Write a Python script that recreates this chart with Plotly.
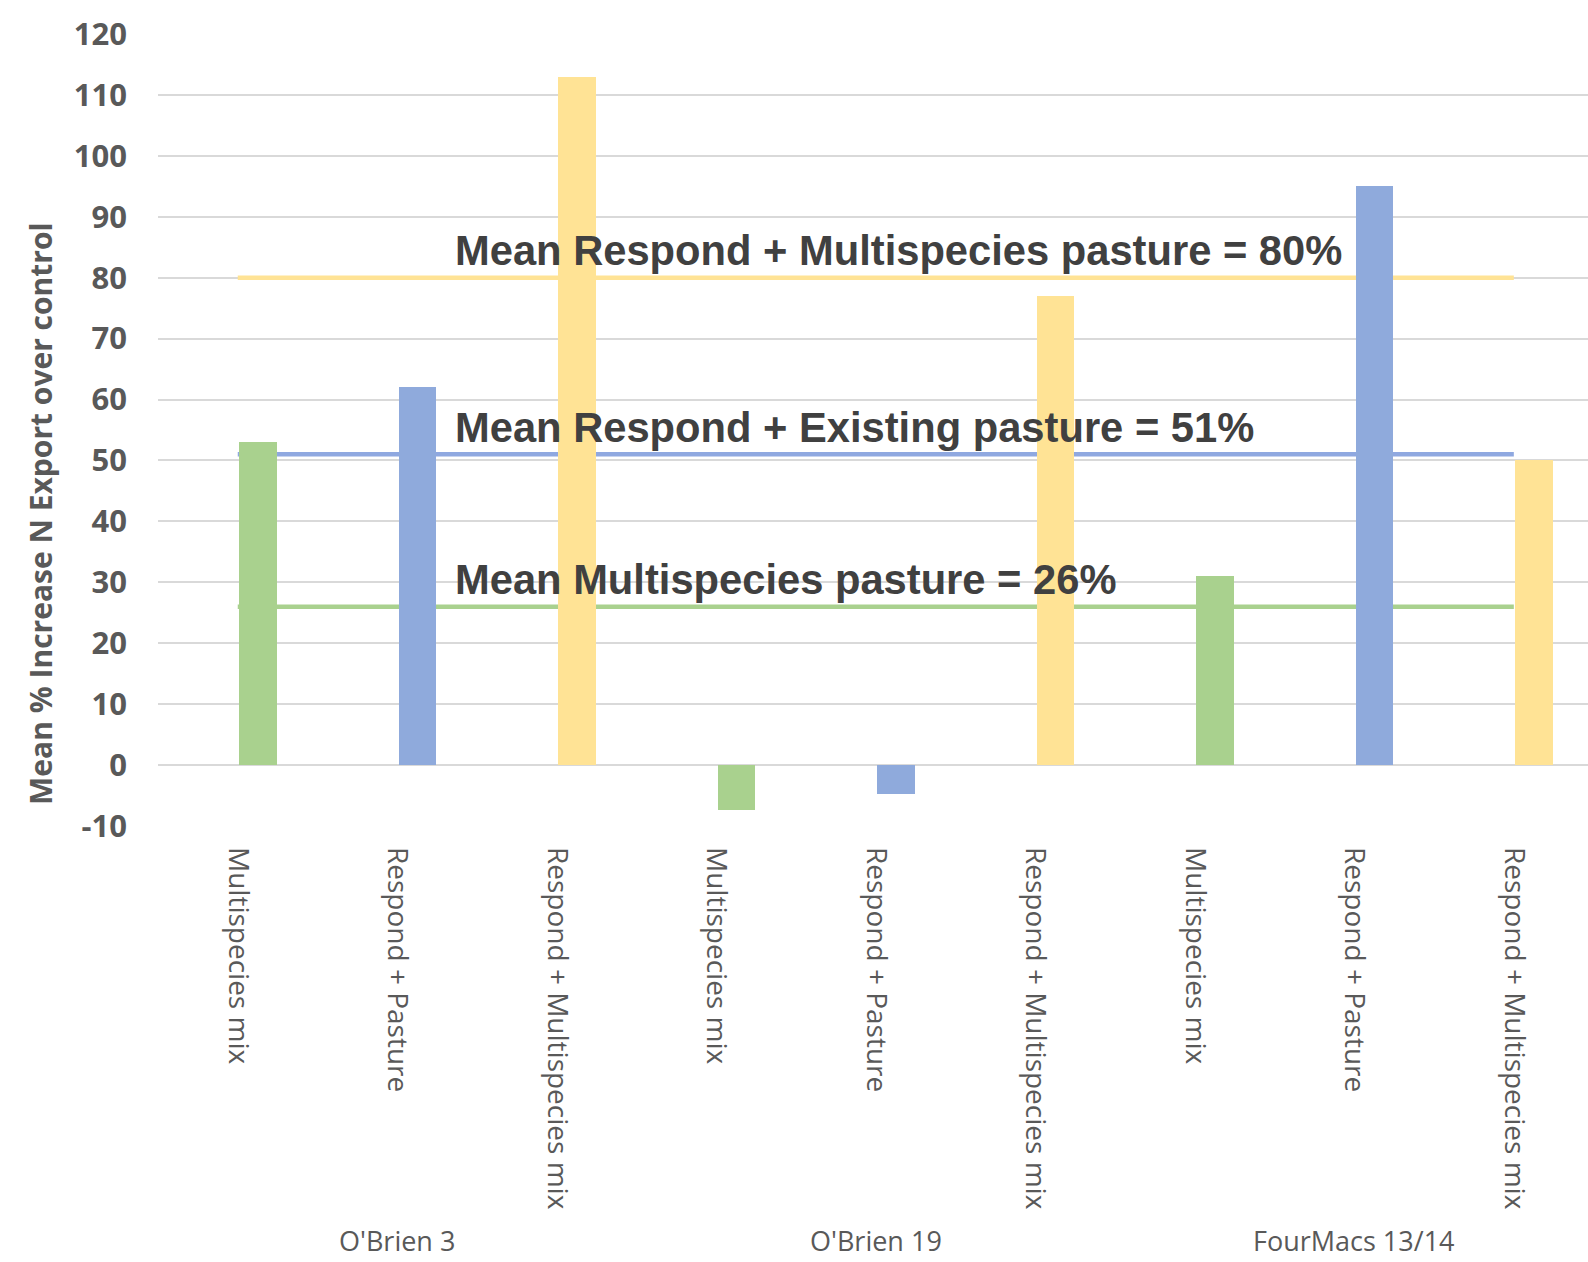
import plotly.graph_objects as go

# ---------------- data ----------------
categories = ["Multispecies mix", "Respond + Pasture", "Respond + Multispecies mix",
              "Multispecies mix", "Respond + Pasture", "Respond + Multispecies mix",
              "Multispecies mix", "Respond + Pasture", "Respond + Multispecies mix"]
groups = ["O'Brien 3", "O'Brien 19", "FourMacs 13/14"]
group_centers = [1, 4, 7]
values = [53, 62, 113, -7.4, -4.8, 77, 31, 95, 50]
treatments = ["mix", "pasture", "respmix", "mix", "pasture", "respmix", "mix", "pasture", "respmix"]
mean_labels = ["Mean Respond + Multispecies pasture = 80%",
               "Mean Respond + Existing pasture = 51%",
               "Mean Multispecies pasture = 26%"]
mean_values = [80, 51, 26]
y_ticks = list(range(-10, 121, 10))
y_title = "Mean % Increase N Export over control"

# ---------------- style ----------------
bar_colors = {"mix": "#A9D18E", "pasture": "#8FAADC", "respmix": "#FFE395"}
line_colors = ["#FFE395", "#8FA8E0", "#A9D18E"]
bar_offset = 0.127
bar_width = 0.236
label_x = 1.35
label_dy = 4.4

xpos = list(range(len(categories)))

fig = go.Figure()
fig.add_trace(go.Bar(
    x=[p + bar_offset for p in xpos],
    y=values,
    width=bar_width,
    marker=dict(color=[bar_colors[t] for t in treatments], line=dict(width=0)),
    showlegend=False,
))

for lbl, mv, col in zip(mean_labels, mean_values, line_colors):
    fig.add_shape(type="line", xref="x", yref="y", x0=xpos[0], x1=xpos[-1], y0=mv, y1=mv,
                  line=dict(color=col, width=4.5), layer="between")
    fig.add_annotation(x=label_x, y=mv + label_dy, xref="x", yref="y", text="<b>%s</b>" % lbl,
                       showarrow=False, xanchor="left", yanchor="middle",
                       font=dict(family="Liberation Sans", size=41.7, color="#404040"))

for g, gc in zip(groups, group_centers):
    fig.add_annotation(x=gc, y=-0.5495, xref="x", yref="paper", text=g, showarrow=False,
                       xanchor="center", yanchor="bottom",
                       font=dict(family="Open Sans", size=27, color="#595959"))

fig.add_annotation(x=-0.0822, y=0.3946, xref="paper", yref="paper",
                   text="<b>%s</b>" % y_title, textangle=-90, showarrow=False,
                   xanchor="center", yanchor="middle",
                   font=dict(family="Open Sans", size=30, color="#595959"))

fig.update_layout(
    width=1588, height=1262,
    margin=dict(l=158, r=0, t=34, b=436),
    plot_bgcolor="white", paper_bgcolor="white",
    bargap=0,
    xaxis=dict(
        range=[-0.5, 8.465],
        tickmode="array", tickvals=xpos, ticktext=categories,
        tickangle=90,
        tickfont=dict(family="Open Sans", size=28, color="#595959"),
        showgrid=False, zeroline=False, showline=False,
        ticks="", ticklabelstandoff=20,
        automargin=False,
    ),
    yaxis=dict(
        range=[-10, 120],
        tickmode="array", tickvals=y_ticks,
        ticktext=["<b>%d</b>" % v for v in y_ticks],
        tickfont=dict(family="Open Sans", size=31, color="#595959"),
        showgrid=True, gridcolor="#D9D9D9", gridwidth=1.5,
        zeroline=False, showline=False, ticks="",
        ticklabelstandoff=30,
        automargin=False,
    ),
)

fig.write_html("out.html")
